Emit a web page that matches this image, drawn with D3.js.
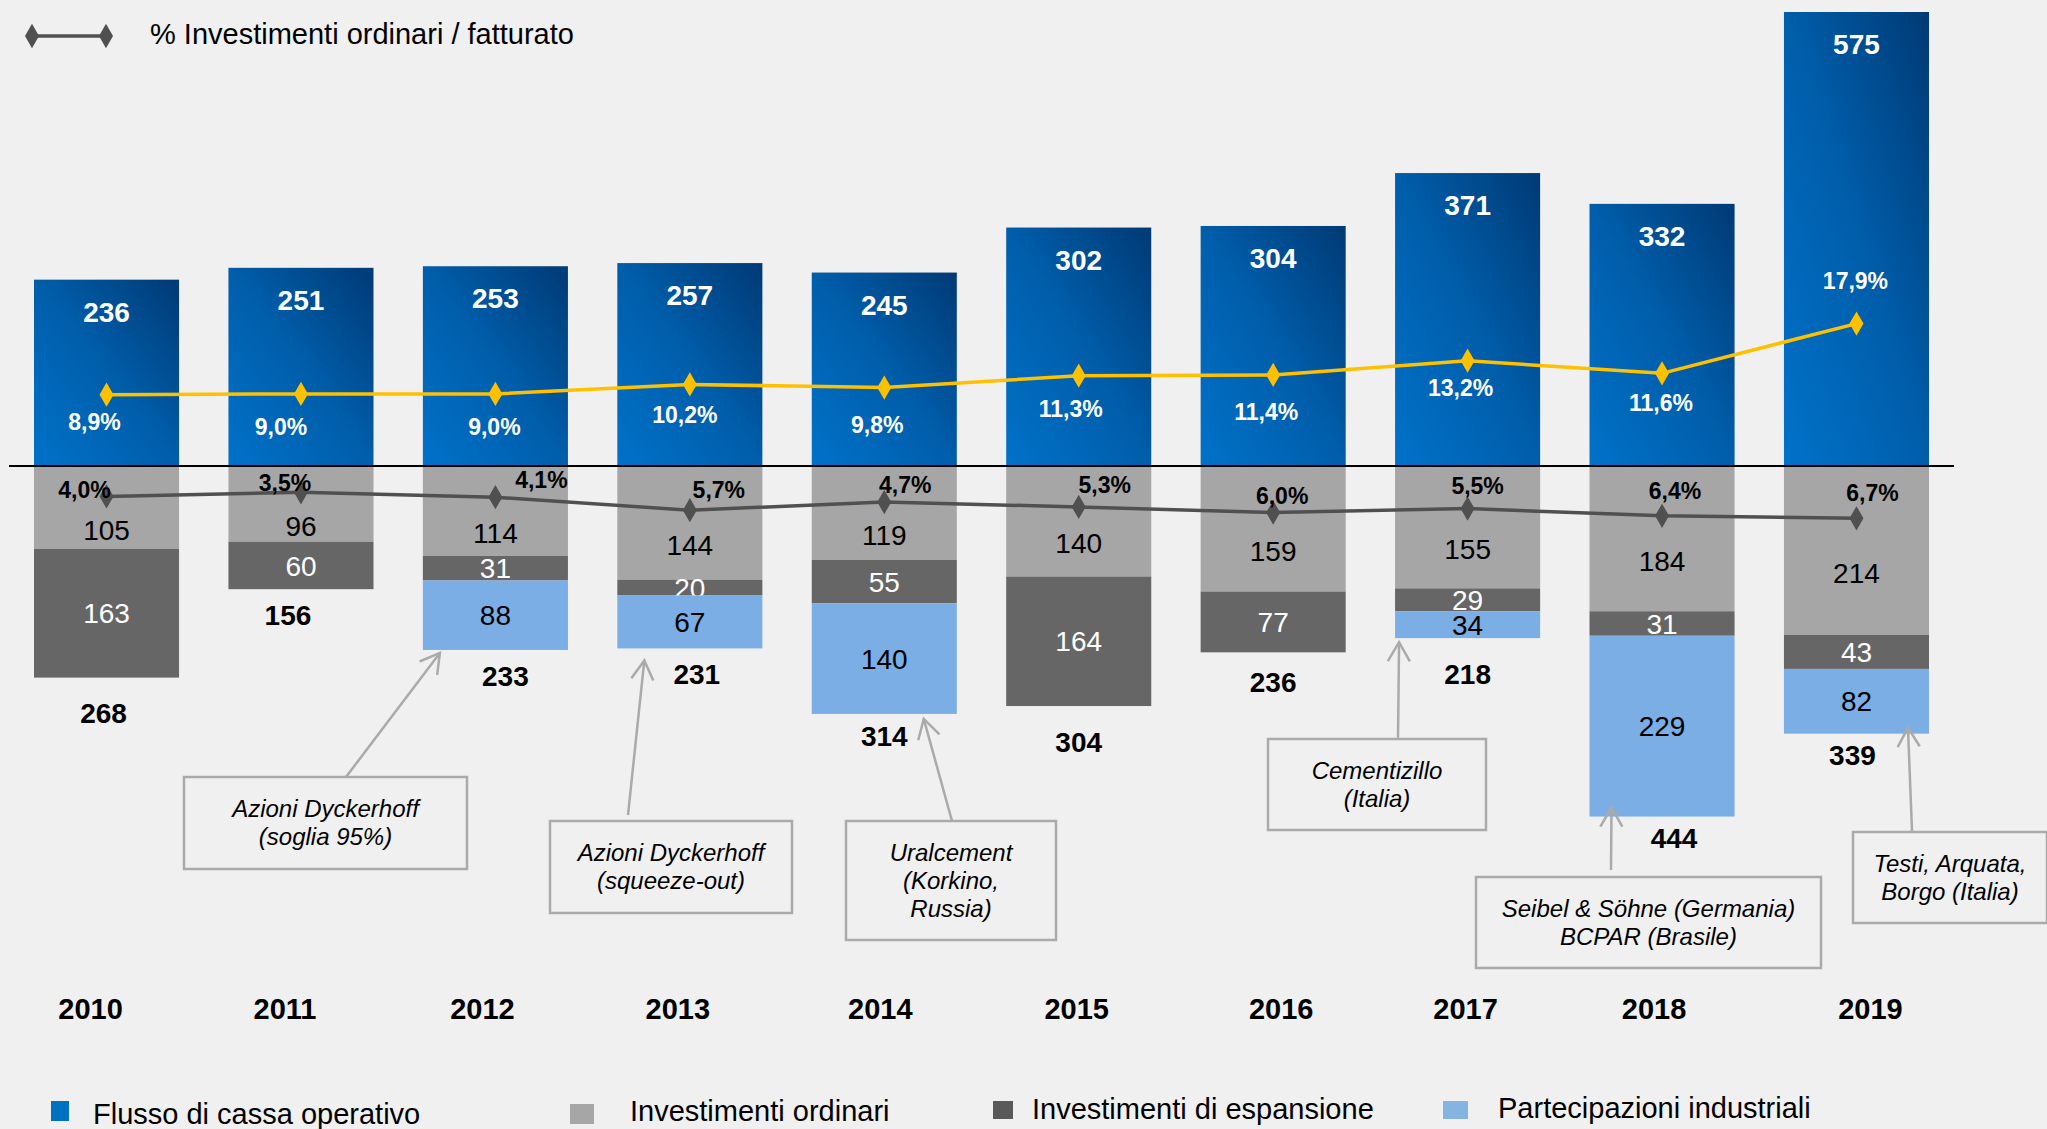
<!DOCTYPE html>
<html>
<head>
<meta charset="utf-8">
<script src="https://cdn.jsdelivr.net/npm/d3@7"></script>
<style>
  html, body { margin: 0; padding: 0; background: #f0f0f0; }
  svg { display: block; font-family: "Liberation Sans", Arial, sans-serif; }
</style>
</head>
<body>
<svg id="chart"></svg>
<script>
// data
const years = ["2010", "2011", "2012", "2013", "2014", "2015", "2016", "2017", "2018", "2019"];
const flusso = [236, 251, 253, 257, 245, 302, 304, 371, 332, 575];
const ordinari = [105, 96, 114, 144, 119, 140, 159, 155, 184, 214];
const espansione = [163, 60, 31, 20, 55, 164, 77, 29, 31, 43];
const partecipazioni = [0, 0, 88, 67, 140, 0, 0, 34, 229, 82];
const pctFlusso = [8.9, 9.0, 9.0, 10.2, 9.8, 11.3, 11.4, 13.2, 11.6, 17.9];
const pctOrdinari = [4.0, 3.5, 4.1, 5.7, 4.7, 5.3, 6.0, 5.5, 6.4, 6.7];
const seriesNames = ["Flusso di cassa operativo", "Investimenti ordinari", "Investimenti di espansione", "Partecipazioni industriali"];
const lineName = "% Investimenti ordinari / fatturato";
const notes = [
  { year: "2012", lines: ["Azioni Dyckerhoff", "(soglia 95%)"] },
  { year: "2013", lines: ["Azioni Dyckerhoff", "(squeeze-out)"] },
  { year: "2014", lines: ["Uralcement", "(Korkino,", "Russia)"] },
  { year: "2017", lines: ["Cementizillo", "(Italia)"] },
  { year: "2018", lines: ["Seibel & Söhne (Germania)", "BCPAR (Brasile)"] },
  { year: "2019", lines: ["Testi, Arquata,", "Borgo (Italia)"] }
];

// layout (label nudges, box placement) - pixels
const width = 2047, height = 1129, base = 466;
const hiDx = [-12, -20, -1, -5, -7, -8, -7, -7, -1, -1];
const hiDy = [27, 33, 33, 30, 37, 33, 37, 27, 29, -43];
const loDx = [-22, -16, 46, 29, 21, 26, 9, 10, 13, 16];
const loDy = [-7, -10, -17, -20, -17, -22, -17, -23, -25, -26];
const totDx = [-3, -13, 10, 7, 0, 0, 0, 0, 12, -4];
const totDy = [35, 26, 26, 26, 22, 36, 30, 36, 21, 21];
const yearDx = [-16, -16, -13, -12, -4, -2, 8, -2, -8, 14];
const noteBoxes = [
  { x: 184, y: 777, w: 283, h: 92, tipDx: 17, tipDy: 3, from: [346, 777] },
  { x: 550, y: 821, w: 242, h: 92, tipDx: 27, tipDy: 12, from: [628, 815] },
  { x: 846, y: 821, w: 210, h: 119, tipDx: 112, tipDy: 5, from: [952, 821] },
  { x: 1268, y: 739, w: 218, h: 91, tipDx: 4, tipDy: 4, from: [1398, 739] },
  { x: 1476, y: 877, w: 345, h: 91, tipDx: 22, tipDy: -9, from: [1611, 870] },
  { x: 1853, y: 832, w: 194, h: 91, tipDx: 124, tipDy: -6, from: [1912, 831] }
];

const colOrd = "#a6a6a6", colEsp = "#666666", colPart = "#7aaee4";
const colYellow = "#ffc000", colLine = "#505050", colNote = "#aaaaaa";

const svg = d3.select("#chart").attr("width", width).attr("height", height);
svg.append("rect").attr("width", width).attr("height", height).attr("fill", "#f0f0f0");

const defs = svg.append("defs");
const grad = defs.append("linearGradient").attr("id", "blueGrad")
  .attr("x1", 0).attr("y1", 1).attr("x2", 1).attr("y2", 0);
grad.append("stop").attr("offset", "0%").attr("stop-color", "#0072c9");
grad.append("stop").attr("offset", "50%").attr("stop-color", "#005eab");
grad.append("stop").attr("offset", "100%").attr("stop-color", "#003a75");

const x = d3.scaleBand().domain(years).range([34, 1929]).paddingInner(0.254).paddingOuter(0);
const y = d3.scaleLinear().domain([0, 575]).range([base, 12]);      // upward amounts
const yDown = d3.scaleLinear().domain([0, 575]).range([base, base + 454]); // downward amounts
const pUp = d3.scaleLinear().domain([0, 20]).range([465, 307]);
const pDown = d3.scaleLinear().domain([0, 20]).range([464, 626]);
const cx = (yr) => x(yr) + x.bandwidth() / 2;

// stacked data below the axis
const rows = years.map((yr, i) => ({
  year: yr, ordinari: ordinari[i], espansione: espansione[i], partecipazioni: partecipazioni[i]
}));
const stack = d3.stack().keys(["ordinari", "espansione", "partecipazioni"])(rows);
const segColor = { ordinari: colOrd, espansione: colEsp, partecipazioni: colPart };
const segText = { ordinari: "#000", espansione: "#fff", partecipazioni: "#000" };

// blue bars
svg.append("g").selectAll("rect").data(years).join("rect")
  .attr("x", (d) => x(d)).attr("width", x.bandwidth())
  .attr("y", (d, i) => y(flusso[i])).attr("height", (d, i) => base - y(flusso[i]))
  .attr("fill", "url(#blueGrad)");

svg.append("g").selectAll("text").data(years).join("text")
  .attr("x", (d) => cx(d)).attr("y", (d, i) => y(flusso[i]) + 42)
  .attr("text-anchor", "middle").attr("fill", "#fff")
  .attr("font-weight", "bold").attr("font-size", 28)
  .text((d, i) => flusso[i]);

// stacked segments below
stack.forEach((layer) => {
  const g = svg.append("g");
  const pts = layer.filter((d) => d[1] - d[0] > 0);
  g.selectAll("rect").data(pts).join("rect")
    .attr("x", (d) => x(d.data.year)).attr("width", x.bandwidth())
    .attr("y", (d) => yDown(d[0])).attr("height", (d) => yDown(d[1]) - yDown(d[0]))
    .attr("fill", segColor[layer.key]);
  g.selectAll("text").data(pts).join("text")
    .attr("x", (d) => cx(d.data.year))
    .attr("y", (d) => (yDown(d[0]) + yDown(d[1])) / 2 + (layer.key === "ordinari" ? 22 : 0))
    .attr("dy", "0.36em")
    .attr("text-anchor", "middle").attr("font-size", 28)
    .attr("fill", segText[layer.key])
    .text((d) => d[1] - d[0]);
});

// totals below stacks
svg.append("g").selectAll("text").data(rows).join("text")
  .attr("x", (d, i) => cx(d.year) + totDx[i])
  .attr("y", (d, i) => yDown(d.ordinari + d.espansione + d.partecipazioni) + totDy[i])
  .attr("dy", "0.36em").attr("text-anchor", "middle")
  .attr("font-weight", "bold").attr("font-size", 28).attr("fill", "#000")
  .text((d) => d.ordinari + d.espansione + d.partecipazioni);

// axis line
svg.append("line").attr("x1", 9).attr("x2", 1954).attr("y1", base).attr("y2", base)
  .attr("stroke", "#000").attr("stroke-width", 2);

const diamond = d3.symbol().type(d3.symbolDiamond).size(170);

function drawLine(values, scale, color, dxs, dys, textColor, fontSize) {
  const pts = years.map((yr, i) => [cx(yr), scale(values[i])]);
  svg.append("path").datum(pts).attr("d", d3.line())
    .attr("fill", "none").attr("stroke", color).attr("stroke-width", 3.5);
  svg.append("g").selectAll("path").data(pts).join("path")
    .attr("d", diamond).attr("transform", (d) => "translate(" + d[0] + "," + d[1] + ")")
    .attr("fill", color);
  svg.append("g").selectAll("text").data(pts).join("text")
    .attr("x", (d, i) => d[0] + dxs[i]).attr("y", (d, i) => d[1] + dys[i])
    .attr("dy", "0.36em").attr("text-anchor", "middle")
    .attr("font-weight", "bold").attr("font-size", fontSize).attr("fill", textColor)
    .text((d, i) => values[i].toFixed(1).replace(".", ",") + "%");
}
drawLine(pctFlusso, pUp, colYellow, hiDx, hiDy, "#fff", 23);
drawLine(pctOrdinari, pDown, colLine, loDx, loDy, "#000", 23);

// year labels
svg.append("g").selectAll("text").data(years).join("text")
  .attr("x", (d, i) => cx(d) + yearDx[i]).attr("y", 1009)
  .attr("dy", "0.36em").attr("text-anchor", "middle")
  .attr("font-weight", "bold").attr("font-size", 29).attr("fill", "#000")
  .text((d) => d);

// annotation boxes with arrows
const totals = rows.map((d) => d.ordinari + d.espansione + d.partecipazioni);
notes.forEach((n, k) => {
  const b = noteBoxes[k];
  const i = years.indexOf(n.year);
  const tip = [x(n.year) + b.tipDx, yDown(totals[i]) + b.tipDy];
  const g = svg.append("g");
  g.append("rect").attr("x", b.x).attr("y", b.y).attr("width", b.w).attr("height", b.h)
    .attr("fill", "#f0f0f0").attr("stroke", colNote).attr("stroke-width", 2.5);
  const ang = Math.atan2(tip[1] - b.from[1], tip[0] - b.from[0]);
  const arm = 22, spread = Math.PI / 6;
  g.append("line").attr("x1", b.from[0]).attr("y1", b.from[1]).attr("x2", tip[0]).attr("y2", tip[1])
    .attr("stroke", colNote).attr("stroke-width", 2.5);
  g.append("path")
    .attr("d", d3.line()([
      [tip[0] - arm * Math.cos(ang - spread), tip[1] - arm * Math.sin(ang - spread)],
      tip,
      [tip[0] - arm * Math.cos(ang + spread), tip[1] - arm * Math.sin(ang + spread)]
    ]))
    .attr("fill", "none").attr("stroke", colNote).attr("stroke-width", 2.5);
  const midY = b.y + b.h / 2;
  g.selectAll("text").data(n.lines).join("text")
    .attr("x", b.x + b.w / 2)
    .attr("y", (d, j) => midY - (n.lines.length - 1) * 14 + 8 + j * 28)
    .attr("text-anchor", "middle").attr("font-style", "italic").attr("font-size", 24)
    .attr("fill", "#000").text((d) => d);
});

// top legend (line)
svg.append("line").attr("x1", 32).attr("x2", 106).attr("y1", 36).attr("y2", 36)
  .attr("stroke", colLine).attr("stroke-width", 3.5);
svg.append("g").selectAll("path").data([32, 106]).join("path")
  .attr("d", diamond).attr("transform", (d) => "translate(" + d + ",36)").attr("fill", colLine);
svg.append("text").attr("x", 150).attr("y", 44).attr("font-size", 29).attr("fill", "#000")
  .text(lineName);

// bottom legend
const legSq = [
  { x: 51, y: 1101, w: 18, h: 20, tx: 93, ty: 1124, c: "#0070c0" },
  { x: 570, y: 1104, w: 24, h: 20, tx: 630, ty: 1121, c: colOrd },
  { x: 993, y: 1101, w: 20, h: 18, tx: 1032, ty: 1119, c: "#595959" },
  { x: 1443, y: 1101, w: 25, h: 18, tx: 1498, ty: 1118, c: "#85b4e3" }
];
const leg = svg.append("g");
leg.selectAll("rect").data(legSq).join("rect")
  .attr("x", (d) => d.x).attr("y", (d) => d.y).attr("width", (d) => d.w).attr("height", (d) => d.h)
  .attr("fill", (d) => d.c);
leg.selectAll("text").data(legSq).join("text")
  .attr("x", (d) => d.tx).attr("y", (d) => d.ty).attr("font-size", 29).attr("fill", "#000")
  .text((d, i) => seriesNames[i]);
</script>
</body>
</html>
